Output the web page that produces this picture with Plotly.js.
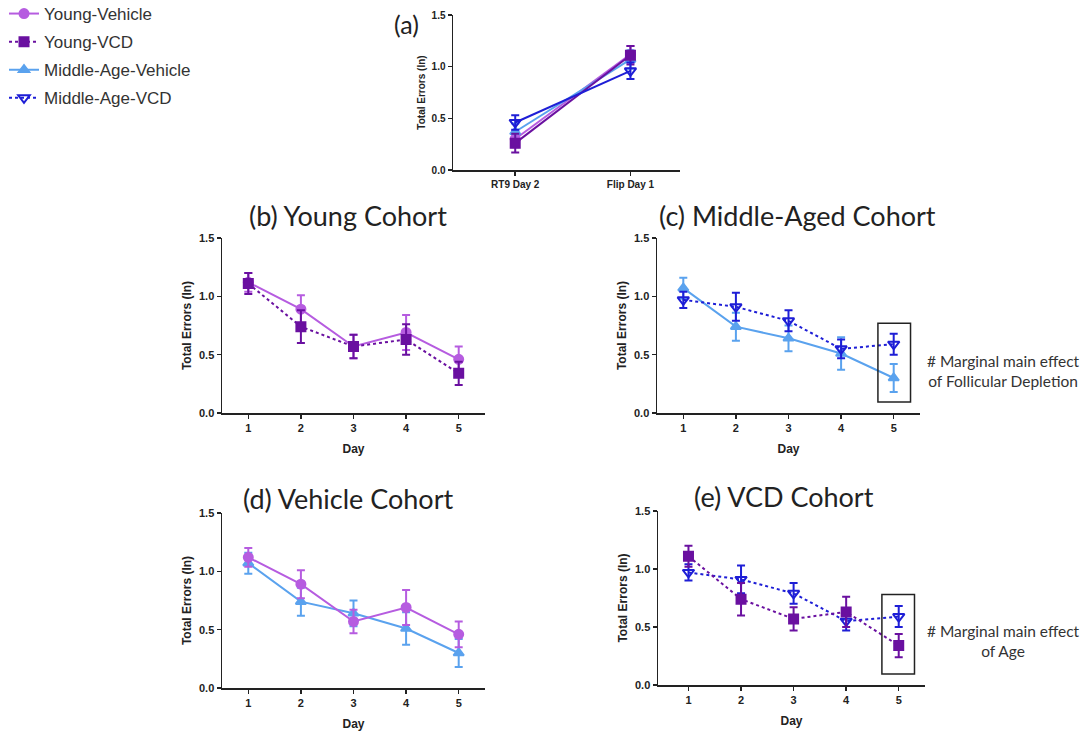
<!DOCTYPE html>
<html>
<head>
<meta charset="utf-8">
<script src="https://cdn.plot.ly/plotly-3.0.1.min.js"></script>
<style>html,body{margin:0;padding:0;background:#fff;}#chart{width:1085px;height:731px;}</style>
</head>
<body>
<div id="chart"></div>
<script>
// ---------- data ----------
const days = [1, 2, 3, 4, 5];
const youngVehicle = [1.12, 0.89, 0.57, 0.69, 0.46];
const youngVehicleSem = [0.08, 0.12, 0.10, 0.15, 0.11];
const youngVCD = [1.11, 0.74, 0.57, 0.63, 0.34];
const youngVCDSem = [0.09, 0.14, 0.10, 0.13, 0.10];
const midVehicle = [1.07, 0.74, 0.64, 0.51, 0.30];
const midVehicleSem = [0.09, 0.12, 0.11, 0.14, 0.12];
const midVCD = [0.97, 0.91, 0.79, 0.55, 0.59];
const midVCDSem = [0.07, 0.12, 0.09, 0.08, 0.09];

const phaseLabels = ['RT9 Day 2', 'Flip Day 1'];
const phaseYoungVehicle = [0.30, 1.12];
const phaseYoungVehicleSem = [0.08, 0.08];
const phaseYoungVCD = [0.26, 1.11];
const phaseYoungVCDSem = [0.09, 0.09];
const phaseMidVehicle = [0.37, 1.07];
const phaseMidVehicleSem = [0.08, 0.09];
const phaseMidVCD = [0.46, 0.96];
const phaseMidVCDSem = [0.07, 0.08];

const yTicks = [0, 0.5, 1.0, 1.5];
const yTickText = ['0.0', '0.5', '1.0', '1.5'];

// ---------- styles ----------
const C = {
  yv: '#b65ce0',
  yc: '#6a10a0',
  mv: '#5aa2ee',
  mc: '#1e1ed6'
};
const styles = {
  'Young-Vehicle': {color: C.yv, symbol: 'circle', size: 9, dash: 'solid', rank: 1},
  'Young-VCD': {color: C.yc, symbol: 'square', size: 9, dash: 'dot', rank: 2},
  'Middle-Age-Vehicle': {color: C.mv, symbol: 'triangle-up', size: 9, dash: 'solid', rank: 3},
  'Middle-Age-VCD': {color: C.mc, symbol: 'triangle-down-open', size: 10, dash: 'dot', rank: 4}
};

function tr(name, x, y, sem, xa, ya, showlegend, dashOverride) {
  const s = styles[name];
  return {
    type: 'scatter', mode: 'lines+markers', name: name,
    x: x, y: y, xaxis: xa, yaxis: ya,
    showlegend: showlegend, legendrank: s.rank, legendgroup: name,
    line: {color: s.color, width: 2, dash: dashOverride || s.dash},
    marker: {color: s.color, symbol: s.symbol, size: s.size, line: {color: s.color, width: 2}},
    error_y: {type: 'data', array: sem, visible: true, color: s.color, thickness: 2, width: 4},
    cliponaxis: false
  };
}

const phaseX = [0, 1];
const traces = [
  // (a)
  tr('Young-Vehicle', phaseX, phaseYoungVehicle, phaseYoungVehicleSem, 'x', 'y', false),
  tr('Middle-Age-Vehicle', phaseX, phaseMidVehicle, phaseMidVehicleSem, 'x', 'y', false),
  tr('Young-VCD', phaseX, phaseYoungVCD, phaseYoungVCDSem, 'x', 'y', false, 'solid'),
  tr('Middle-Age-VCD', phaseX, phaseMidVCD, phaseMidVCDSem, 'x', 'y', false, 'solid'),
  // (b)
  tr('Young-Vehicle', days, youngVehicle, youngVehicleSem, 'x2', 'y2', true),
  tr('Young-VCD', days, youngVCD, youngVCDSem, 'x2', 'y2', true),
  // (c)
  tr('Middle-Age-Vehicle', days, midVehicle, midVehicleSem, 'x3', 'y3', true),
  tr('Middle-Age-VCD', days, midVCD, midVCDSem, 'x3', 'y3', true),
  // (d)
  tr('Middle-Age-Vehicle', days, midVehicle, midVehicleSem, 'x4', 'y4', false),
  tr('Young-Vehicle', days, youngVehicle, youngVehicleSem, 'x4', 'y4', false),
  // (e)
  tr('Middle-Age-VCD', days, midVCD, midVCDSem, 'x5', 'y5', false),
  tr('Young-VCD', days, youngVCD, youngVCDSem, 'x5', 'y5', false)
];

const W = 1085, H = 731;
const dx = (a, b) => [a / W, b / W];
const dy = (top, bottom) => [1 - bottom / H, 1 - top / H];

const AF = 'Arial, Liberation Sans, sans-serif';
const tickFontBig = {family: AF, size: 11, color: '#222', weight: 'bold'};
const tickFontSmall = {family: AF, size: 10, color: '#222', weight: 'bold'};

function yAxis(domain, anchor, small) {
  return {
    domain: domain, anchor: anchor, range: [0, 1.5], tickvals: yTicks, ticktext: yTickText,
    showline: true, linecolor: '#222', linewidth: 1.5, ticks: 'outside', ticklen: 4, tickwidth: 1.5,
    tickcolor: '#222', showgrid: false, zeroline: false,
    tickfont: small ? tickFontSmall : tickFontBig,
    title: {text: 'Total Errors (ln)', font: {family: AF, size: small ? 10 : 12, color: '#222', weight: 'bold'}, standoff: small ? 4 : 5}
  };
}
function xAxis(domain, anchor, range, small, titled) {
  const ax = {
    domain: domain, anchor: anchor, range: range,
    showline: true, linecolor: '#222', linewidth: 1.5, ticks: 'outside', ticklen: 4, tickwidth: 1.5,
    tickcolor: '#222', showgrid: false, zeroline: false,
    tickfont: small ? tickFontSmall : tickFontBig
  };
  if (titled) ax.title = {text: 'Day', font: {family: AF, size: 12, color: '#222', weight: 'bold'}, standoff: 12};
  return ax;
}

const xa = xAxis(dx(453, 680), 'y', [-0.54, 1.43], true, false);
xa.tickvals = phaseX; xa.ticktext = phaseLabels;
const dayAxis = (d, a, r) => { const ax = xAxis(d, a, r, false, true); ax.tickvals = days; return ax; };

const TF = 'Lato, Carlito, Open Sans, sans-serif';
const titleFont = {family: TF, size: 27, color: '#222'};
const aFont = {family: TF, size: 25, color: '#222'};
const noteFont = {family: TF, size: 15.5, color: '#333'};

const layout = {
  width: W, height: H,
  margin: {l: 0, r: 0, t: 0, b: 0, autoexpand: false},
  paper_bgcolor: '#fff', plot_bgcolor: '#fff',
  showlegend: true,
  legend: {x: 4 / W, y: 1 + 4 / H, xanchor: 'left', yanchor: 'top', font: {family: AF, size: 17, color: '#333'}, itemwidth: 30, tracegroupgap: 3, bgcolor: 'rgba(0,0,0,0)'},
  xaxis: xa,
  yaxis: yAxis(dy(15, 170), 'x', true),
  xaxis2: dayAxis(dx(222, 485), 'y2', [0.5, 5.5]),
  yaxis2: yAxis(dy(238, 413), 'x2', false),
  xaxis3: dayAxis(dx(657, 920), 'y3', [0.5, 5.5]),
  yaxis3: yAxis(dy(238, 413), 'x3', false),
  xaxis4: dayAxis(dx(222, 485), 'y4', [0.5, 5.5]),
  yaxis4: yAxis(dy(513, 688), 'x4', false),
  xaxis5: dayAxis(dx(658, 925), 'y5', [0.42, 5.5]),
  yaxis5: yAxis(dy(511, 685), 'x5', false),
  annotations: [
    {text: '(a)', x: 406 / W, y: 1 - 24 / H, xref: 'paper', yref: 'paper', showarrow: false, font: aFont, xanchor: 'center', yanchor: 'middle'},
    {text: '(b) Young Cohort', x: 348 / W, y: 1 - 215 / H, xref: 'paper', yref: 'paper', showarrow: false, font: titleFont, xanchor: 'center', yanchor: 'middle'},
    {text: '(c) Middle-Aged Cohort', x: 797 / W, y: 1 - 215 / H, xref: 'paper', yref: 'paper', showarrow: false, font: titleFont, xanchor: 'center', yanchor: 'middle'},
    {text: '(d) Vehicle Cohort', x: 348 / W, y: 1 - 498 / H, xref: 'paper', yref: 'paper', showarrow: false, font: titleFont, xanchor: 'center', yanchor: 'middle'},
    {text: '(e) VCD Cohort', x: 784 / W, y: 1 - 496 / H, xref: 'paper', yref: 'paper', showarrow: false, font: titleFont, xanchor: 'center', yanchor: 'middle'},
    {text: '# Marginal main effect<br>of Follicular Depletion', x: 1003 / W, y: 1 - 371 / H, xref: 'paper', yref: 'paper', showarrow: false, font: noteFont, xanchor: 'center', yanchor: 'middle', align: 'center'},
    {text: '# Marginal main effect<br>of Age', x: 1003 / W, y: 1 - 641 / H, xref: 'paper', yref: 'paper', showarrow: false, font: noteFont, xanchor: 'center', yanchor: 'middle', align: 'center'}
  ],
  shapes: [
    {type: 'rect', xref: 'x3', yref: 'y3', x0: 4.70, x1: 5.32, y0: 0.094, y1: 0.77, line: {color: '#222', width: 1.5}},
    {type: 'rect', xref: 'x5', yref: 'y5', x0: 4.68, x1: 5.30, y0: 0.095, y1: 0.78, line: {color: '#222', width: 1.5}}
  ]
};

Plotly.newPlot('chart', traces, layout, {displayModeBar: false, staticPlot: true});
</script>
</body>
</html>
